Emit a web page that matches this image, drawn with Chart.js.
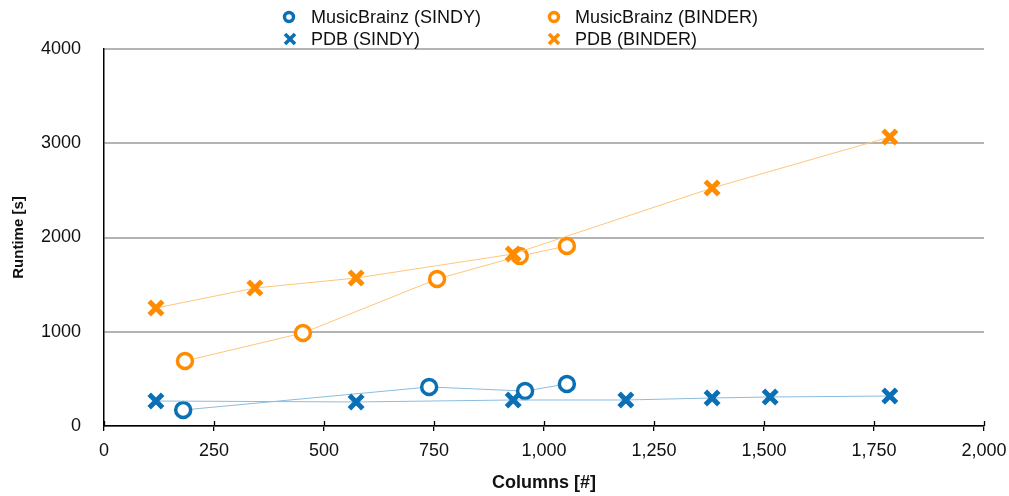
<!DOCTYPE html>
<html><head><meta charset="utf-8">
<script src="https://cdn.jsdelivr.net/npm/chart.js@4/dist/chart.umd.min.js"></script>
<style>
body{margin:0;background:#fff;}
#wrap{position:relative;width:1009px;height:496px;}
.lg{position:absolute;font-family:'Liberation Sans',Arial,sans-serif;font-size:18px;line-height:22px;color:#111;white-space:nowrap;}
.ic{position:absolute;}
</style></head>
<body>
<div id="wrap">
<canvas id="c"></canvas>
</div>
<script>
// ---- data ----
const mbSindyX = [180, 739, 957, 1052];
const mbSindyY = [170, 414, 371, 446];
const mbBinderX = [184, 452, 757, 945, 1052];
const mbBinderY = [690, 987, 1560, 1804, 1910];
const pdbSindyX = [118, 573, 930, 1186, 1382, 1514, 1786];
const pdbSindyY = [265, 255, 276, 276, 297, 308, 318];
const pdbBinderX = [118, 343, 573, 930, 1382, 1786];
const pdbBinderY = [1252, 1464, 1570, 1825, 2525, 3066];
const seriesNames = ['MusicBrainz (SINDY)', 'MusicBrainz (BINDER)', 'PDB (SINDY)', 'PDB (BINDER)'];
const xTicks = [0, 250, 500, 750, 1000, 1250, 1500, 1750, 2000];
const yTicks = [0, 1000, 2000, 3000, 4000];

const BLUE = '#0b6fb5', BLUE_L = '#8bbce0', ORANGE = '#ff8c00', ORANGE_L = '#ffc679';
const pts = (xs, ys) => xs.map((x, i) => ({x, y: ys[i]}));

// ---- HTML legend ----
const wrap = document.getElementById('wrap');
const legendItems = [
  {name: seriesNames[0], color: BLUE, shape: 'o', ix: 289, tx: 311, cy: 17},
  {name: seriesNames[1], color: ORANGE, shape: 'o', ix: 554, tx: 575, cy: 17},
  {name: seriesNames[2], color: BLUE, shape: 'x', ix: 290, tx: 311, cy: 39},
  {name: seriesNames[3], color: ORANGE, shape: 'x', ix: 554, tx: 575, cy: 39}
];
legendItems.forEach(it => {
  const svgNS = 'http://www.w3.org/2000/svg';
  const svg = document.createElementNS(svgNS, 'svg');
  svg.setAttribute('width', 16); svg.setAttribute('height', 16);
  svg.setAttribute('class', 'ic');
  svg.style.left = (it.ix - 8) + 'px'; svg.style.top = (it.cy - 8) + 'px';
  if (it.shape === 'o') {
    const c = document.createElementNS(svgNS, 'circle');
    c.setAttribute('cx', 8); c.setAttribute('cy', 8); c.setAttribute('r', 4.5);
    c.setAttribute('fill', '#fff'); c.setAttribute('stroke', it.color); c.setAttribute('stroke-width', 3.4);
    svg.appendChild(c);
  } else {
    const p = document.createElementNS(svgNS, 'path');
    p.setAttribute('d', 'M3 3 L13 13 M13 3 L3 13');
    p.setAttribute('stroke', it.color); p.setAttribute('stroke-width', 3.6);
    svg.appendChild(p);
  }
  wrap.appendChild(svg);
  const s = document.createElement('span');
  s.className = 'lg'; s.textContent = it.name;
  s.style.left = it.tx + 'px'; s.style.top = (it.cy - 11) + 'px';
  wrap.appendChild(s);
});

// inner halves of x tick marks (crossing the axis)
const innerTicks = {
  id: 'innerTicks',
  afterDraw(chart) {
    const xs = chart.scales.x, ctx = chart.ctx, b = chart.chartArea.bottom;
    ctx.save(); ctx.strokeStyle = '#000'; ctx.lineWidth = 1.3;
    xTicks.forEach(v => {
      const px = Math.round(xs.getPixelForValue(v)) + 0.5;
      ctx.beginPath(); ctx.moveTo(px, b - 5); ctx.lineTo(px, b); ctx.stroke();
    });
    ctx.restore();
  }
};

const ds = (label, data, color, lineColor, style) => ({
  label, data, showLine: true, borderColor: lineColor, borderWidth: 1,
  pointStyle: style,
  pointRadius: style === 'circle' ? 7.5 : 9.5,
  pointHoverRadius: style === 'circle' ? 7.5 : 9.5,
  pointBorderWidth: style === 'circle' ? 3.5 : 5,
  pointBorderColor: color,
  pointBackgroundColor: style === 'circle' ? '#fff' : color,
  tension: 0
});

new Chart(document.getElementById('c'), {
  type: 'scatter',
  data: {
    datasets: [
      ds(seriesNames[3], pts(pdbBinderX, pdbBinderY), ORANGE, ORANGE_L, 'crossRot'),
      ds(seriesNames[1], pts(mbBinderX, mbBinderY), ORANGE, ORANGE_L, 'circle'),
      ds(seriesNames[2], pts(pdbSindyX, pdbSindyY), BLUE, BLUE_L, 'crossRot'),
      ds(seriesNames[0], pts(mbSindyX, mbSindyY), BLUE, BLUE_L, 'circle')
    ]
  },
  options: {
    responsive: true, maintainAspectRatio: false, animation: false,
    layout: {padding: {top: 49, right: 25, left: 0, bottom: 0}},
    plugins: {legend: {display: false}, tooltip: {enabled: false}},
    scales: {
      x: {
        type: 'linear', min: 0, max: 2000,
        afterBuildTicks: s => { s.ticks = xTicks.map(v => ({value: v})); },
        afterFit: s => { s.height = 70; s.paddingLeft = 0; s.paddingRight = 0; },
        ticks: {
          color: '#111', padding: 9,
          font: {family: "'Liberation Sans', Arial", size: 18},
          callback: v => v.toLocaleString('en-US')
        },
        grid: {drawOnChartArea: false, tickLength: 5, color: '#000', lineWidth: 1.3},
        border: {color: '#000', width: 1.5},
        title: {display: true, text: 'Columns [#]', color: '#111',
          font: {family: "'Liberation Sans', Arial", size: 18, weight: 'bold'},
          padding: {top: 0, bottom: 2}}
      },
      y: {
        type: 'linear', min: 0, max: 4000,
        afterBuildTicks: s => { s.ticks = yTicks.map(v => ({value: v})); },
        afterFit: s => { s.width = 104; s.paddingTop = 0; s.paddingBottom = 0; },
        ticks: {color: '#111', padding: 23,
          font: {family: "'Liberation Sans', Arial", size: 18},
          callback: v => String(v)},
        grid: {color: '#b3b3b3', lineWidth: 2, drawTicks: false},
        border: {color: '#000', width: 1.5},
        title: {display: true, text: 'Runtime [s]', color: '#111',
          font: {family: "'Liberation Sans', Arial", size: 15, weight: 'bold'},
          padding: {top: 10, bottom: 0}}
      }
    }
  },
  plugins: [innerTicks]
});
</script>
</body></html>
